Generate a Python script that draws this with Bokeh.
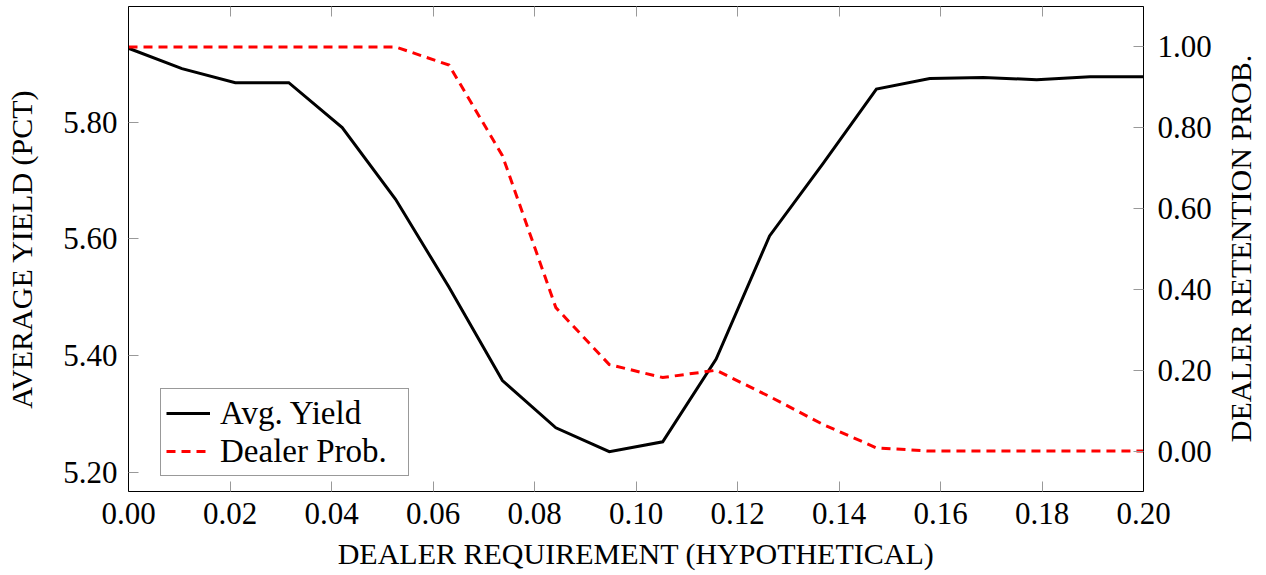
import math
from bokeh.plotting import figure
from bokeh.layouts import row
from bokeh.models import (Range1d, LinearAxis, FixedTicker, PrintfTickFormatter,
                          Legend, LegendItem, Label)
from bokeh.embed import file_html
from bokeh.resources import INLINE

# ---- data ----
requirement = [0.0, 0.01053, 0.02105, 0.03158, 0.04211, 0.05263, 0.06316,
               0.07368, 0.08421, 0.09474, 0.10526, 0.11579, 0.12632, 0.13684,
               0.14737, 0.15789, 0.16842, 0.17895, 0.18947, 0.2]
avg_yield = [5.927, 5.892, 5.868, 5.868, 5.791, 5.668, 5.517, 5.357, 5.276,
             5.235, 5.252, 5.394, 5.605, 5.729, 5.857, 5.875, 5.877, 5.873,
             5.878, 5.878]
dealer_prob = [1.0, 1.0, 1.0, 1.0, 1.0, 1.0, 0.955, 0.731, 0.355, 0.214,
               0.182, 0.200, 0.135, 0.066, 0.008, 0.0, 0.0, 0.0, 0.0, 0.0]

x_ticks = [0.00, 0.02, 0.04, 0.06, 0.08, 0.10, 0.12, 0.14, 0.16, 0.18, 0.20]
yield_ticks = [5.2, 5.4, 5.6, 5.8]
prob_ticks = [0.0, 0.2, 0.4, 0.6, 0.8, 1.0]

x_label = "DEALER REQUIREMENT (HYPOTHETICAL)"
y_label = "AVERAGE YIELD (PCT)"
y2_label = "DEALER RETENTION PROB."
series_names = ["Avg. Yield", "Dealer Prob."]

FONT = "Liberation Serif"
TICK_FS = "31px"
LABEL_FS = "30px"
TICK_COLOR = "#999999"

p = figure(width=1214, height=575, output_backend="svg", toolbar_location=None,
           x_range=Range1d(0.0, 0.2), y_range=Range1d(5.1667, 5.9986),
           min_border_left=128, min_border_right=71, min_border_top=6,
           min_border_bottom=84)
p.extra_y_ranges = {"prob": Range1d(-0.1, 1.1)}
p.xgrid.visible = False
p.ygrid.visible = False
p.outline_line_color = "black"
p.outline_line_width = 1
p.background_fill_color = "white"
p.border_fill_color = "white"


def style_axis(ax, ticks, label, show_labels=True):
    ax.ticker = FixedTicker(ticks=ticks)
    ax.formatter = PrintfTickFormatter(format="%.2f")
    ax.major_tick_in = 10
    ax.major_tick_out = 0
    ax.minor_tick_line_color = None
    ax.major_tick_line_color = TICK_COLOR
    ax.major_tick_line_width = 1
    ax.axis_line_color = "black"
    ax.axis_line_width = 1
    ax.major_label_text_font = FONT
    if show_labels:
        ax.major_label_text_color = "black"
        ax.major_label_text_font_size = TICK_FS
        ax.major_label_standoff = 11
    else:
        ax.major_label_text_color = None
        ax.major_label_text_font_size = "1px"
        ax.major_label_standoff = 0
    if label:
        ax.axis_label = label
        ax.axis_label_text_font = FONT
        ax.axis_label_text_font_size = LABEL_FS
        ax.axis_label_text_font_style = "normal"
        ax.axis_label_text_color = "black"


style_axis(p.xaxis[0], x_ticks, x_label)
p.xaxis[0].axis_label_standoff = 10
style_axis(p.yaxis[0], yield_ticks, y_label)
p.yaxis[0].axis_label_standoff = 22

top_axis = LinearAxis()
style_axis(top_axis, x_ticks, None, show_labels=False)
p.add_layout(top_axis, "above")

right_axis = LinearAxis(y_range_name="prob")
style_axis(right_axis, prob_ticks, None)
right_axis.major_label_standoff = 14
p.add_layout(right_axis, "right")

r1 = p.line(requirement, avg_yield, line_color="black", line_width=3,
            line_join="miter")
r2 = p.line(requirement, dealer_prob, y_range_name="prob", line_color="red",
            line_width=3, line_dash="9 6", line_join="miter")

legend = Legend(items=[LegendItem(label=series_names[0], renderers=[r1]),
                       LegendItem(label=series_names[1], renderers=[r2])],
                location=(32, 15))
legend.label_text_font = FONT
legend.label_text_font_size = "33px"
legend.label_text_color = "black"
legend.border_line_color = "#333333"
legend.border_line_width = 1
legend.background_fill_color = "white"
legend.background_fill_alpha = 1
legend.glyph_width = 44
legend.glyph_height = 38
legend.label_height = 38
legend.label_width = 183
legend.label_standoff = 10
legend.padding = 5
legend.spacing = 0
legend.margin = 0
p.add_layout(legend, "center")

# narrow strip on the right carrying the right-hand axis title (bottom-to-top)
p2 = figure(width=52, height=575, output_backend="svg", toolbar_location=None,
            x_axis_location=None, y_axis_location=None,
            x_range=Range1d(0, 1), y_range=Range1d(0, 1),
            min_border=0)
p2.outline_line_color = None
p2.background_fill_color = "white"
p2.border_fill_color = "white"
p2.grid.visible = False
right_title = Label(x=26, y=243, x_units="screen", y_units="screen",
                    text=y2_label, angle=math.pi / 2,
                    text_align="center", text_baseline="middle",
                    text_font=FONT, text_font_size=LABEL_FS,
                    text_color="black")
p2.add_layout(right_title)

layout = row(p, p2, spacing=0)
open("out.html", "w").write(file_html(layout, INLINE))
